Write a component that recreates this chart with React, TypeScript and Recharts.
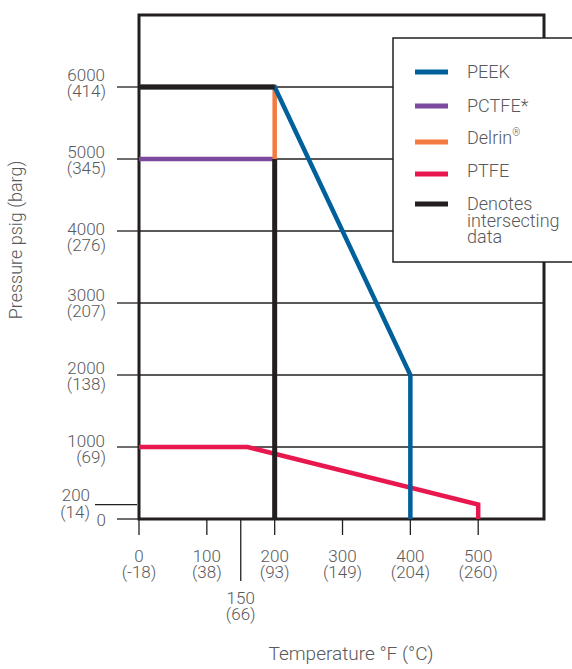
import React from 'react';
import { LineChart, Line, XAxis, YAxis, CartesianGrid, ReferenceArea } from 'recharts';

// temperature (°F) / pressure (psig) points for each seal material
const peekTemp = [0, 200, 400, 400];
const peekPsig = [6000, 6000, 2000, 0];
const pctfeTemp = [0, 200];
const pctfePsig = [5000, 5000];
const delrinTemp = [0, 200, 200];
const delrinPsig = [6000, 6000, 5000];
const ptfeTemp = [0, 160, 500, 500];
const ptfePsig = [1000, 1000, 200, 0];
// where the curves overlap (null = break in the line)
const overlapTemp = [0, 200, 200, 200, 200];
const overlapPsig: (number | null)[] = [6000, 6000, null, 5000, 0];

const xTicksF = [0, 100, 150, 200, 300, 400, 500];
const xTicksC = ['(-18)', '(38)', '(66)', '(93)', '(149)', '(204)', '(260)'];
const yTicksPsig = [0, 200, 1000, 2000, 3000, 4000, 5000, 6000];
const yTicksBarg = ['', '(14)', '(69)', '(138)', '(207)', '(276)', '(345)', '(414)'];
const gridPsig = [1000, 2000, 3000, 4000, 5000, 6000];

const X_MAX = 597;
const Y_MAX = 7000;

const W = 572;
const H = 669;
const MARGIN = { top: 15, right: 28, bottom: 0, left: 0 };
const Y_AXIS_W = 139;
const X_AXIS_H = 150;
const PLOT_LEFT = MARGIN.left + Y_AXIS_W;
const PLOT_BOTTOM = H - MARGIN.bottom - X_AXIS_H;

const INK = '#231f20';
const TEXT = '#58595b';
const FONT = 'Roboto, sans-serif';

const COLORS = {
  peek: '#00609c',
  pctfe: '#7b4a9e',
  delrin: '#f47b3f',
  ptfe: '#e8174e',
  overlap: INK,
};

const toPoints = (t: number[], p: (number | null)[]) => t.map((v, i) => ({ t: v, p: p[i] }));

const peek = toPoints(peekTemp, peekPsig);
const pctfe = toPoints(pctfeTemp, pctfePsig);
const delrin = toPoints(delrinTemp, delrinPsig);
const ptfe = toPoints(ptfeTemp, ptfePsig);
const overlap = toPoints(overlapTemp, overlapPsig);

// small hand nudges on the two-line y labels, like the original artwork
const yLabelShift: Record<number, number> = { 6000: -6, 5000: -1, 4000: 4, 3000: -2, 2000: -1, 1000: 0 };

const textProps = { fill: TEXT, fontFamily: FONT, fontSize: 17, fontWeight: 300 };

const YTick = (props: any) => {
  const { y, payload } = props;
  const v = payload.value as number;
  const i = yTicksPsig.indexOf(v);
  if (v === 0) {
    return (
      <g>
        <line x1={117} x2={PLOT_LEFT} y1={y} y2={y} stroke={INK} strokeWidth={1.3} />
        <text x={106} y={y + 7} textAnchor="end" {...textProps}>0</text>
      </g>
    );
  }
  if (v === 200) {
    return (
      <g>
        <line x1={95} x2={PLOT_LEFT - 2} y1={y} y2={y} stroke={INK} strokeWidth={1.3} />
        <text x={90} y={y - 4} textAnchor="end" {...textProps}>{v}</text>
        <text x={90} y={y + 13} textAnchor="end" {...textProps}>{yTicksBarg[i]}</text>
      </g>
    );
  }
  const s = yLabelShift[v] ?? 0;
  return (
    <g>
      <line x1={117} x2={PLOT_LEFT} y1={y} y2={y} stroke={INK} strokeWidth={1.3} />
      <text x={105} y={y + s} textAnchor="end" {...textProps}>{v}</text>
      <text x={106} y={y + s + 16} textAnchor="end" {...textProps}>{yTicksBarg[i]}</text>
    </g>
  );
};

const XTick = (props: any) => {
  const { x, payload } = props;
  const v = payload.value as number;
  const i = xTicksF.indexOf(v);
  const low = v === 150;
  const tickEnd = low ? 581 : 535;
  const base = low ? 604 : 562;
  return (
    <g>
      <line x1={x} x2={x} y1={PLOT_BOTTOM} y2={tickEnd} stroke={INK} strokeWidth={1.3} />
      <text x={x} y={base} textAnchor="middle" {...textProps}>{v}</text>
      <text x={x} y={base + 16} textAnchor="middle" {...textProps}>{xTicksC[i]}</text>
    </g>
  );
};

const legendItems = [
  { label: ['PEEK'], color: COLORS.peek },
  { label: ['PCTFE*'], color: COLORS.pctfe },
  { label: ['Delrin'], color: COLORS.delrin, reg: true },
  { label: ['PTFE'], color: COLORS.ptfe },
  { label: ['Denotes', 'intersecting', 'data'], color: COLORS.overlap },
];
const legendRowY = [34, 68, 104, 136, 166];
const legendTextY = [40, 74, 106, 139, 172];

const ChartLegend = () => (
  <svg
    width={190}
    height={226}
    style={{ position: 'absolute', left: 392, top: 37, overflow: 'visible' }}
  >
    <rect x={1} y={1} width={200} height={224} fill="#fff" stroke={INK} strokeWidth={1.5} />
    {legendItems.map((item, i) => (
      <g key={item.label[0]}>
        <line x1={23} x2={56} y1={legendRowY[i] + 1} y2={legendRowY[i] + 1} stroke={item.color} strokeWidth={5} />
        <text x={75} y={legendTextY[i] + 1} fill={TEXT} fontFamily={FONT} fontSize={18} fontWeight={300}>
          {item.label.map((line, j) => (
            <tspan key={line} x={75} dy={j === 0 ? 0 : 16.5}>{line}</tspan>
          ))}
          {item.reg && <tspan fontSize={10} dy={-8}>®</tspan>}
        </text>
      </g>
    ))}
  </svg>
);

const lineProps = {
  type: 'linear' as const,
  dataKey: 'p',
  dot: false,
  activeDot: false,
  strokeWidth: 4.5,
  strokeLinejoin: 'miter' as const,
  isAnimationActive: false,
  legendType: 'none' as const,
};

export default function App() {
  return (
    <div style={{ position: 'absolute', left: 0, top: 0, width: W, height: H, overflow: 'hidden', background: '#fff' }}>
      <LineChart width={W} height={H} margin={MARGIN}>
        <CartesianGrid horizontal vertical={false} horizontalValues={gridPsig} stroke={INK} strokeWidth={1.3} />
        <XAxis
          type="number"
          dataKey="t"
          domain={[0, X_MAX]}
          ticks={xTicksF}
          interval={0}
          height={X_AXIS_H}
          axisLine={false}
          tickLine={false}
          tick={<XTick />}
          label={() => (
            <text x={351} y={660} textAnchor="middle" fill={TEXT} fontFamily={FONT} fontSize={19} fontWeight={300}>
              Temperature °F (°C)
            </text>
          )}
        />
        <YAxis
          type="number"
          domain={[0, Y_MAX]}
          ticks={yTicksPsig}
          interval={0}
          width={Y_AXIS_W}
          axisLine={false}
          tickLine={false}
          tick={<YTick />}
          label={() => (
            <text
              x={22}
              y={240}
              transform="rotate(-90 22 240)"
              textAnchor="middle"
              fill={TEXT}
              fontFamily={FONT}
              fontSize={18}
              fontWeight={300}
            >
              Pressure psig (barg)
            </text>
          )}
        />
        <ReferenceArea x1={0} x2={X_MAX} y1={0} y2={Y_MAX} fill="none" stroke={INK} strokeWidth={3} ifOverflow="visible" />
        <Line {...lineProps} data={ptfe} stroke={COLORS.ptfe} name="PTFE" />
        <Line {...lineProps} data={pctfe} stroke={COLORS.pctfe} name="PCTFE*" />
        <Line {...lineProps} data={delrin} stroke={COLORS.delrin} name="Delrin" />
        <Line {...lineProps} data={peek} stroke={COLORS.peek} name="PEEK" />
        <Line {...lineProps} data={overlap} stroke={COLORS.overlap} strokeWidth={5} name="Denotes intersecting data" />
      </LineChart>
      <ChartLegend />
    </div>
  );
}
